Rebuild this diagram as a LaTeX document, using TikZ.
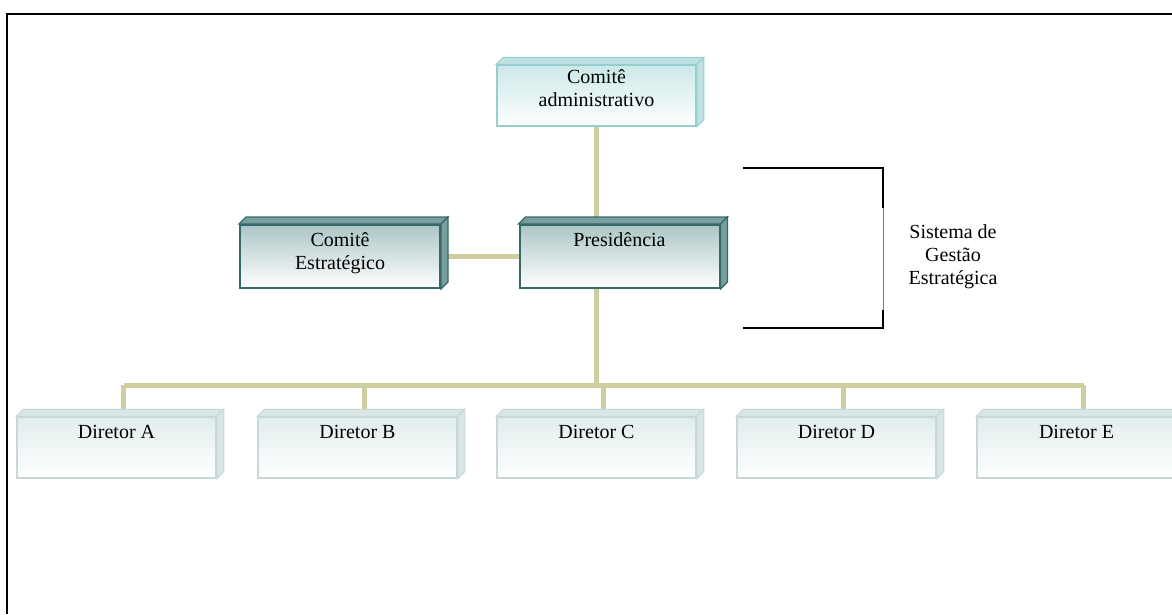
\documentclass[tikz,border=0pt]{standalone}
\usepackage{fontspec}
\setmainfont{Liberation Serif}
\usetikzlibrary{backgrounds,patterns}
\definecolor{connC}{RGB}{206,206,158}
\definecolor{admB}{RGB}{150,206,206}
\definecolor{admT}{RGB}{204,232,232}
\definecolor{admF}{RGB}{190,225,225}
\definecolor{drkB}{RGB}{52,106,106}
\definecolor{drkT}{RGB}{172,198,198}
\definecolor{drkF}{RGB}{120,158,158}
\definecolor{dirB}{RGB}{200,216,216}
\definecolor{dirT}{RGB}{226,237,237}
\definecolor{dirF}{RGB}{218,230,230}
\newcommand{\boxfaces}[4]{%
  \filldraw[fill=#2,draw=#3,line width=#4] (#1.north west) -- ++(7,-7) -- ([shift={(7,-7)}]#1.north east) -- (#1.north east) -- cycle;
  \filldraw[fill=#2,draw=#3,line width=#4] (#1.north east) -- ++(7,-7) -- ([shift={(7,-7)}]#1.south east) -- (#1.south east) -- cycle;}
\begin{document}
\begin{tikzpicture}[x=1pt,y=-1pt,
  box/.style={rectangle, inner sep=0pt, minimum width=199pt, minimum height=61pt},
  admbox/.style={box, draw=admB, line width=1.5pt, top color=admT, bottom color=white},
  drkbox/.style={box, draw=drkB, line width=2pt, top color=drkT, bottom color=white, minimum height=63pt, minimum width=200pt},
  dirbox/.style={box, draw=dirB, line width=1.5pt, top color=dirT, bottom color=white},
  txt/.style={font=\fontsize{20}{23}\selectfont, align=center, inner sep=0pt},
  conn/.style={draw=connC, line width=5pt},
  brk/.style={draw=black, line width=1.8pt},
  frame/.style={draw=black, line width=2pt}]
\useasboundingbox (0,0) rectangle (1172,614);
\draw[frame] (7,614) -- (7,14) -- (1172,14);
% boxes
\node[admbox] (adm) at (596.5,95.5) {};
\node[drkbox] (est) at (340,256.5) {};
\node[drkbox] (pres) at (619.5,256.5) {};
\node[dirbox] (dA) at (116.5,447.5) {};
\node[dirbox] (dB) at (357.5,447.5) {};
\node[dirbox] (dC) at (596.5,447.5) {};
\node[dirbox] (dD) at (836.5,447.5) {};
\node[dirbox] (dE) at (1076.5,447.5) {};
\boxfaces{adm}{admF}{admB}{1pt}
\boxfaces{est}{drkF}{drkB}{1.2pt}
\boxfaces{pres}{drkF}{drkB}{1.2pt}
\foreach \n in {dA,dB,dC,dD,dE} {\boxfaces{\n}{dirF}{dirB}{1pt}}
% texts
\node[txt] (admT) at ([yshift=-23.5pt]adm.north) {Comitê\\administrativo};
\node[txt] (estT) at ([yshift=-29.5pt]est.north) {Comitê\\Estratégico};
\node[txt] (presT) at ([yshift=-16pt]pres.north) {Presidência};
\node[txt] (dAT) at ([yshift=-15.5pt]dA.north) {Diretor A};
\node[txt] (dBT) at ([yshift=-15.5pt]dB.north) {Diretor B};
\node[txt] (dCT) at ([yshift=-15.5pt]dC.north) {Diretor C};
\node[txt] (dDT) at ([yshift=-15.5pt]dD.north) {Diretor D};
\node[txt] (dET) at ([yshift=-15.5pt]dE.north) {Diretor E};
% bracket
\draw[brk] (743,168) -- (883,168) -- (883,208);
\draw[draw=gray, line width=0.8pt] (883,208) -- (883,310);
\draw[brk] (883,310) -- (883,328) -- (743,328);
\node[txt] (sge) at (953,257) {Sistema de\\Gestão\\Estratégica};
% connectors
\coordinate (bus) at (596.5,385);
\begin{pgfonlayer}{background}
\draw[conn] (adm.south) -- ([yshift=7pt]adm.south |- pres.north);
\draw[conn] (est.east) -- (pres.west);
\draw[conn] (adm.south |- pres.south) -- (bus);
\draw[conn] ([xshift=7pt]dA.north |- bus) -- ([xshift=7pt]dE.north |- bus);
\foreach \n in {dA,dB,dC,dD,dE} {\draw[conn] ([xshift=7pt]\n.north |- bus) -- ([xshift=7pt,yshift=7pt]\n.north);}
\end{pgfonlayer}
\end{tikzpicture}
\end{document}
